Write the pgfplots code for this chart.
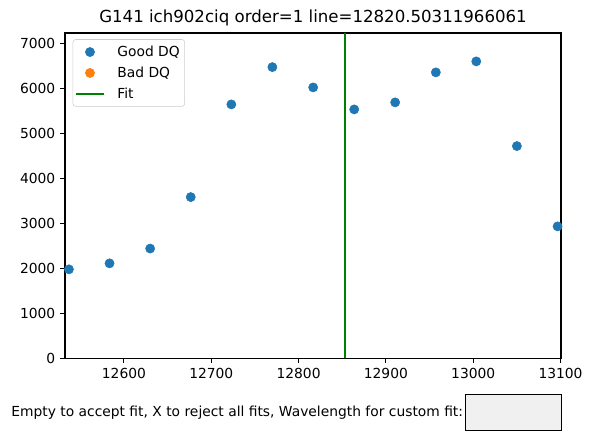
\documentclass[border=0pt]{standalone}
\usepackage{fontspec}
\setmainfont{DejaVu Sans}
\usepackage{pgfplots}
\pgfplotsset{compat=1.18}
\definecolor{mplblue}{HTML}{1F77B4}
\definecolor{mplorange}{HTML}{FF7F0E}
\definecolor{mplgreen}{HTML}{008000}
\definecolor{boxgray}{HTML}{F0F0F0}
\begin{document}
\begin{tikzpicture}[x=1bp,y=1bp]
\useasboundingbox (0,0) rectangle (425.52,320.4);
\begin{axis}[
  at={(46.8bp,62.4bp)}, anchor=south west,
  scale only axis, width=357.1bp, height=234.2bp,
  xmin=12532.5, xmax=13100.5, ymin=0, ymax=7230,
  xtick={12600,12700,12800,12900,13000,13100},
  ytick={0,1000,2000,3000,4000,5000,6000,7000},
  scaled ticks=false,
  xticklabel style={/pgf/number format/fixed, /pgf/number format/precision=0},
  tick align=outside, tick pos=left,
  major tick length=3.5bp,
  tick style={black, line width=0.8bp},
  axis line style={line width=0.8bp},
  /pgf/number format/.cd, set thousands separator={}, assume math mode=true,
  /pgfplots/.cd,
  ticklabel style={font=\fontsize{10}{12}\selectfont},
  legend cell align=left,
  legend style={at={(0.0155,0.981)}, anchor=north west,
    draw=black!20, rounded corners=2bp, fill=white,
    font=\fontsize{10}{12}\selectfont,
    inner xsep=1.5bp, inner ysep=2.5bp,
    row sep=2bp,
    nodes={inner sep=2bp},
    /tikz/every odd column/.append style={column sep=7bp}},
  clip=true,
]
\addplot[only marks, mark=*, mark size=3.3bp, color=mplblue, mark options={draw=mplblue, fill=mplblue},
  legend image code/.code={\fill[mplblue] (10bp,0) circle (3.3bp);}]
  coordinates {
  (12537,1978) (12583.5,2111) (12630,2440) (12676.5,3584) (12723,5644)
  (12770,6473) (12816.7,6022) (12863.7,5533) (12910.6,5689) (12957.2,6356)
  (13003.5,6600) (13050,4718) (13096.6,2933)
  };
\addlegendentry{Good DQ}
\addlegendimage{legend image code/.code={\fill[mplorange] (10bp,0) circle (3.3bp);}}
\addlegendentry{Bad DQ}
\addplot[mplgreen, line width=1.5bp,
  legend image code/.code={\draw[mplgreen, line width=1.5bp] (0,0) -- (20bp,0);}]
  coordinates {(12853,0) (12853,7230)};
\addlegendentry{Fit}
\end{axis}
\node at (225.4,307.2) {\fontsize{12}{14}\selectfont G141 ich902ciq order=1 line=12820.50311966061};
\node[anchor=east, inner sep=0pt] at (333.6,23.5) {\fontsize{10}{12}\selectfont Empty to accept fit, X to reject all fits, Wavelength for custom fit:};
\draw[fill=boxgray, line width=0.8bp] (335.0,10.6) rectangle (404.4,36.5);
\end{tikzpicture}
\end{document}
